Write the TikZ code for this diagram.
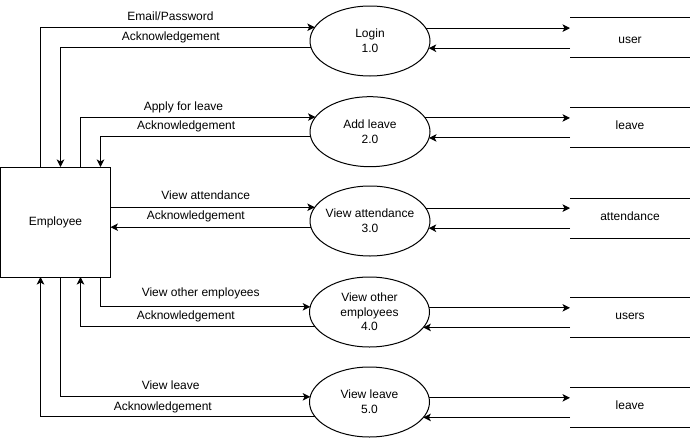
\documentclass[tikz,border=0pt]{standalone}
\usepackage{fontspec}
\setmainfont{Liberation Sans}
\usetikzlibrary{shapes.geometric,arrows.meta}
\begin{document}
\begin{tikzpicture}[x=0.75pt,y=-0.75pt,
  every node/.style={font=\fontsize{9pt}{11pt}\selectfont, outer sep=0pt},
  line width=0.75pt,
  entity/.style={draw, rectangle, minimum width=82.5pt, minimum height=82.5pt, inner sep=0pt},
  proc/.style={draw, ellipse, minimum width=90pt, minimum height=52.5pt, inner xsep=-3pt, inner ysep=0pt, align=center},
  store/.style={rectangle, minimum width=90pt, minimum height=30pt, inner sep=0pt, text height=6.5pt, text depth=2.7pt},
  flow/.style={-{Stealth[length=5.6pt,width=5.6pt,inset=1.4pt]}},
  lbl/.style={inner sep=0pt}
]
\useasboundingbox (0,0) rectangle (692,439);

% entity
\node[entity] (emp) at (55.5,222) {Employee};

% processes
\node[proc] (login) at (370,41) {Login\\1.0};
\node[proc] (addl) at (370,131.7) {Add leave\\2.0};
\node[proc] (att) at (370,221) {View attendance\\3.0};
\node[proc] (voe) at (369.5,312) {View other\\employees\\4.0};
\node[proc] (vl) at (369.5,402) {View leave\\5.0};

% data stores
\node[store] (user) at (630,37) {\raisebox{-2.8pt}{user}};
\node[store] (leaveA) at (630,127.3) {leave};
\node[store] (attd) at (630,218.3) {attendance};
\node[store] (users) at (630,317.3) {users};
\node[store] (leaveB) at (630,407.3) {leave};
\foreach \s in {user,leaveA,attd,users,leaveB}{
  \draw (\s.north west) -- (\s.north east) (\s.south west) -- (\s.south east);
}

% flows: employee <-> processes
\draw[flow] (emp.north -| 40.5,0) |- (login.166.06);
\draw[flow] (login.186.09) -| (emp.north -| 60.5,0);
\draw[flow] (emp.north -| 80.5,0) |- (addl.165.25);
\draw[flow] (addl.185.40) -| (emp.north -| 100.5,0);
\draw[flow] (att.166.06 -| emp.east) -- (att.166.06);
\draw[flow] (att.186.09) -- (att.186.09 -| emp.east);
\draw[flow] (emp.south -| 100.5,0) |- (voe.175.87);
\draw[flow] (voe.195.83) -| (emp.south -| 80.5,0);
\draw[flow] (emp.south -| 60.5,0) |- (vl.175.87);
\draw[flow] (vl.195.83) -| (emp.south -| 40.5,0);

% flows: processes <-> stores
\draw[flow] (login.13.94) -- (login.13.94 -| user.west);
\draw[flow] (login.353.91 -| user.west) -- (login.353.91);
\draw[flow] (addl.14.75) -- (addl.14.75 -| leaveA.west);
\draw[flow] (addl.354.60 -| leaveA.west) -- (addl.354.60);
\draw[flow] (att.13.94) -- (att.13.94 -| attd.west);
\draw[flow] (att.353.91 -| attd.west) -- (att.353.91);
\draw[flow] (voe.4.13) -- (voe.4.13 -| users.west);
\draw[flow] (voe.344.17 -| users.west) -- (voe.344.17);
\draw[flow] (vl.4.13) -- (vl.4.13 -| leaveB.west);
\draw[flow] (vl.344.17 -| leaveB.west) -- (vl.344.17);

% flow labels
\node[lbl] (t1) at (170.5,16.7) {Email/Password};
\node[lbl] (t2) at (170.8,37.2) {Acknowledgement};
\node[lbl] (t3) at (183.5,107.8) {Apply for leave};
\node[lbl] (t4) at (186.2,126.2) {Acknowledgement};
\node[lbl] (t5) at (205.7,195) {View attendance};
\node[lbl] (t6) at (195.8,216.2) {Acknowledgement};
\node[lbl] (t7) at (200.7,293.8) {View other employees};
\node[lbl] (t8) at (185.8,316.2) {Acknowledgement};
\node[lbl] (t9) at (170.7,385.7) {View leave};
\node[lbl] (t10) at (162.8,407.2) {Acknowledgement};
\end{tikzpicture}
\end{document}
